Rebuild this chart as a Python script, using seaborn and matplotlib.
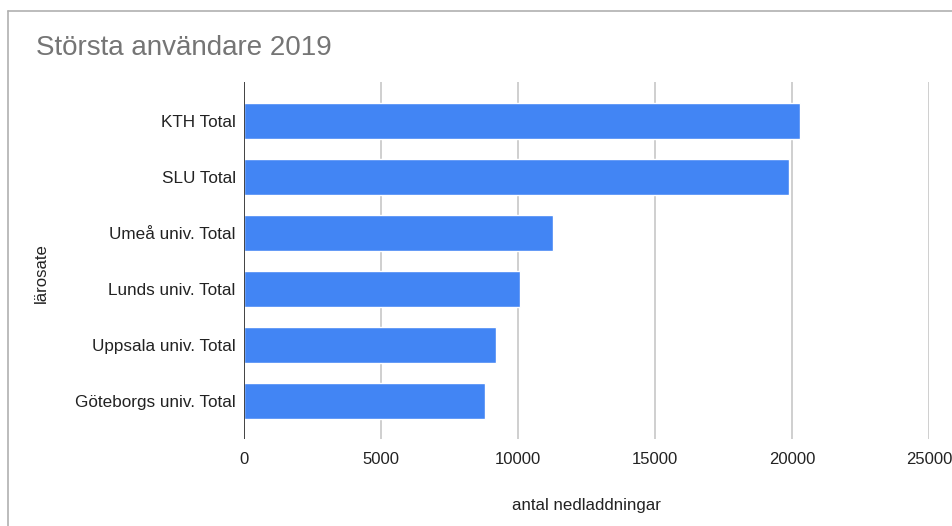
import matplotlib
matplotlib.use("Agg")
import matplotlib.pyplot as plt
from matplotlib.lines import Line2D
import seaborn as sns
import pandas as pd

categories = ["KTH Total", "SLU Total", "Umeå univ. Total", "Lunds univ. Total",
              "Uppsala univ. Total", "Göteborgs univ. Total"]
values = [20280, 19880, 11265, 10073, 9212, 8797]
x_ticks = [0, 5000, 10000, 15000, 20000, 25000]
title = "Största användare 2019"
x_label = "antal nedladdningar"
y_label = "lärosate"

df = pd.DataFrame({"lärosate": categories, "antal": values})

sns.set_theme(style="white")
plt.rcParams["font.family"] = ["Liberation Sans", "DejaVu Sans"]

W, H = 952, 526
fig = plt.figure(figsize=(W / 100, H / 100), dpi=100)
ax = fig.add_axes([244 / W, 1 - 439 / H, (929 - 244) / W, (439 - 82) / H])

sns.barplot(data=df, x="antal", y="lärosate", orient="h", color="#4285F4",
            saturation=1, width=0.64, ax=ax, zorder=3)

ax.set_xlim(0, 25000)
ax.set_ylim(5.679, -0.696)
ax.set_xticks(x_ticks)
ax.set_xticklabels([str(t) for t in x_ticks])
for t in x_ticks[1:]:
    ax.axvline(t, color="#cccccc", lw=1.3, zorder=1)
ax.axvline(0, color="#333333", lw=1.3, zorder=4)

for s in ax.spines.values():
    s.set_visible(False)
ax.tick_params(axis="both", length=0, colors="#222222")
ax.tick_params(axis="y", pad=6, labelsize=12.3)
ax.tick_params(axis="x", pad=9, labelsize=12)

ax.set_xlabel(x_label, fontsize=12.2, color="#222222")
ax.set_ylabel(y_label, fontsize=12.1, color="#222222")
ax.xaxis.set_label_coords(0.5, -0.165)
ax.yaxis.set_label_coords(-0.285, 0.465)

fig.text(36 / W, 1 - 48 / H, title, fontsize=20, color="#757575",
         ha="left", va="center")

fig.add_artist(Line2D([8 / W, 1.01], [1 - 11 / H, 1 - 11 / H],
                      transform=fig.transFigure, color="#b0b0b0", lw=1.2))
fig.add_artist(Line2D([8 / W, 8 / W], [1 - 11 / H, -0.01],
                      transform=fig.transFigure, color="#b0b0b0", lw=1.2))

fig.savefig("out.png", dpi=100)
